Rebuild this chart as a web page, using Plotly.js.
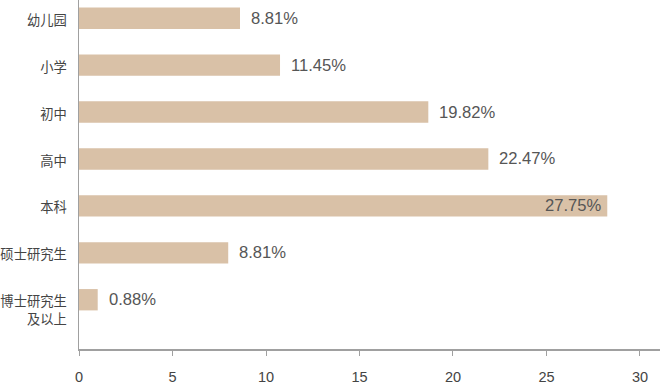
<!DOCTYPE html>
<html>
<head>
<meta charset="utf-8">
<script src="https://cdn.plot.ly/plotly-3.0.1.min.js"></script>
<style>html,body{margin:0;padding:0;background:#fff;}#chart{width:660px;height:386px;}</style>
</head>
<body>
<div id="chart"></div>
<script>
const categories = ['幼儿园', '小学', '初中', '高中', '本科', '硕士研究生', '博士研究生<br>及以上'];
const barValues = [8.61, 10.75, 18.68, 21.89, 28.25, 7.98, 1.0];
const valueLabels = ['8.81%', '11.45%', '19.82%', '22.47%', '27.75%', '8.81%', '0.88%'];
const xTicks = [0, 5, 10, 15, 20, 25, 30];

// category labels: each line of a wrapped label gets its own tick, spaced like the reference
const lineStep = 0.38;
const yTickVals = [];
const yTickText = [];
categories.forEach((c, i) => {
  c.split('<br>').forEach((line, k) => {
    yTickVals.push(i + 0.04 + k * lineStep);
    yTickText.push(line);
  });
});

const labelColor = '#565656';
const annotations = categories.map((c, i) => {
  const inside = i === 4;
  return {
    x: barValues[i], y: i, xref: 'x', yref: 'y',
    text: valueLabels[i], showarrow: false,
    xanchor: inside ? 'right' : 'left',
    xshift: inside ? -3 : 9,
    font: {family: 'Liberation Sans, Arial, sans-serif', size: 16.6, color: labelColor}
  };
});

const trace = {
  type: 'bar', orientation: 'h',
  x: barValues, y: categories.map((c, i) => i),
  marker: {color: '#d9c1a7'},
  width: 0.455,
  hoverinfo: 'none'
};

const layout = {
  width: 660, height: 386,
  margin: {l: 79, r: 0, t: 0, b: 37},
  paper_bgcolor: '#ffffff', plot_bgcolor: '#ffffff',
  showlegend: false,
  xaxis: {
    range: [0, 31.07], tickvals: xTicks, ticktext: xTicks.map(String),
    showgrid: false, zeroline: false,
    showline: true, linecolor: '#a0a0a0', linewidth: 1.5,
    ticks: 'outside', ticklen: 5, tickcolor: '#a0a0a0', tickwidth: 1,
    ticklabelstandoff: 9,
    tickfont: {family: 'Liberation Sans, Arial, sans-serif', size: 14.5, color: '#444444'}
  },
  yaxis: {
    range: [7.05, -0.388],
    tickvals: yTickVals, ticktext: yTickText,
    showgrid: false, zeroline: false,
    showline: true, linecolor: '#a0a0a0', linewidth: 1.5,
    ticks: '', ticklabelstandoff: 8,
    tickfont: {family: 'Noto Sans CJK SC, sans-serif', size: 13.3, color: '#444444'}
  },
  annotations: annotations
};

Plotly.newPlot('chart', [trace], layout, {displayModeBar: false, staticPlot: true});
</script>
</body>
</html>
